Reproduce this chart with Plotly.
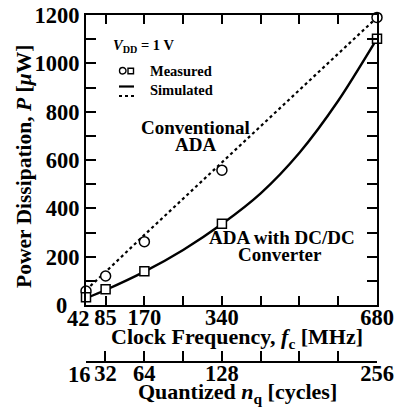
import plotly.graph_objects as go

# ---- data ----
freq_mhz = [42, 85, 170, 340, 680]
conv_measured = [58, 120, 262, 558, 1190]
dcdc_measured = [32, 65, 140, 336, 1102]

sim_freq = [42, 85, 170, 255, 340, 425, 510, 595, 680]
conv_simulated = [62, 137, 290, 440, 590, 740, 890, 1040, 1190]
dcdc_simulated = [28, 62, 138, 228, 335, 462, 630, 845, 1102]

x_tickvals = [42, 85, 170, 255, 340, 425, 510, 595, 680]
x_ticktext = ["", "85", "170", "", "340", "", "", "", "680"]
nq_tickvals = [16, 32, 64, 96, 128, 160, 192, 224, 256]
nq_ticktext = ["", "32", "64", "", "128", "", "", "", "256"]
y_tickvals = list(range(0, 1300, 100))
y_ticktext = [str(v) if (v % 200 == 0 and v > 0) else "" for v in y_tickvals]

FONT = "Liberation Serif"
W, H = 402, 408
L, R, T, B = 86, 377, 15, 362  # paper box in pixels
PLOT_BOTTOM = 305


def px(x):
    return (x - L) / (R - L)


def py(y):
    return (B - y) / (B - T)


fig = go.Figure()

fig.add_trace(go.Scatter(x=sim_freq, y=conv_simulated, mode="lines",
                         line=dict(color="black", width=2.2, dash="dot"),
                         cliponaxis=False, showlegend=False))
fig.add_trace(go.Scatter(x=sim_freq, y=dcdc_simulated, mode="lines",
                         line=dict(color="black", width=2.4, shape="spline", smoothing=0.8),
                         cliponaxis=False, showlegend=False))
fig.add_trace(go.Scatter(x=freq_mhz, y=conv_measured, mode="markers",
                         marker=dict(symbol="circle", size=10, color="white",
                                     line=dict(color="black", width=1.5)),
                         cliponaxis=False, showlegend=False))
fig.add_trace(go.Scatter(x=freq_mhz, y=dcdc_measured, mode="markers",
                         marker=dict(symbol="square", size=9, color="white",
                                     line=dict(color="black", width=1.5)),
                         cliponaxis=False, showlegend=False))
# dummy trace for secondary axis
fig.add_trace(go.Scatter(x=[16, 256], y=[None, None], xaxis="x2", mode="markers",
                         showlegend=False, hoverinfo="skip"))

tickfont = dict(family=FONT, size=22.5, color="black", weight="bold")

fig.update_layout(
    width=W, height=H,
    margin=dict(l=L, r=W - R, t=T, b=H - B, autoexpand=False),
    paper_bgcolor="white", plot_bgcolor="white",
    font=dict(family=FONT, color="black"),
    showlegend=False,
    xaxis=dict(range=[42, 680], tickmode="array", tickvals=x_tickvals, ticktext=x_ticktext,
               ticks="inside", ticklen=9, tickwidth=2, tickcolor="black", tickangle=0,
               showline=True, linewidth=2, linecolor="black", mirror="ticks",
               showgrid=False, zeroline=False, tickfont=tickfont, anchor="y",
               automargin=False, ticklabelstandoff=-9),
    yaxis=dict(range=[0, 1200], domain=[(B - PLOT_BOTTOM) / (B - T), 1],
               tickmode="array", tickvals=y_tickvals, ticktext=y_ticktext,
               ticks="inside", ticklen=10, tickwidth=2, tickcolor="black",
               showline=True, linewidth=2, linecolor="black", mirror="ticks",
               showgrid=False, zeroline=False, tickfont=tickfont, automargin=False),
    xaxis2=dict(range=[16, 256], overlaying="x", anchor="free", position=0, side="bottom",
                tickmode="array", tickvals=nq_tickvals, ticktext=nq_ticktext,
                ticks="inside", ticklen=10, tickwidth=2, tickcolor="black", tickangle=0,
                showline=True, linewidth=2, linecolor="black",
                showgrid=False, zeroline=False, tickfont=tickfont,
                automargin=False, ticklabelstandoff=-9),
)

bold = lambda s: "<b>" + s + "</b>"

annotations = [
    # offset corner tick labels
    dict(text=bold("0"), x=px(69), y=py(305), xanchor="right", font=dict(size=22.5)),
    dict(text=bold("42"), x=px(78), y=py(318), font=dict(size=22.5)),
    dict(text=bold("16"), x=px(79), y=py(374), font=dict(size=22.5)),
    # axis titles
    dict(text=bold("Power Dissipation, <i>P</i> [<i>μ</i>W]"), textangle=-90,
         x=px(24), y=py(167), font=dict(size=21.5)),
    dict(text=bold("Clock Frequency, <i>f</i><sub>c</sub> [MHz]"),
         x=px(237), y=py(338), font=dict(size=22)),
    dict(text=bold("Quantized <i>n</i><sub>q</sub> [cycles]"),
         x=px(237), y=py(393), font=dict(size=22)),
    # legend / labels
    dict(text=bold("<i>V</i><sub>DD</sub> = 1 V"), x=px(111), y=py(46), xanchor="left",
         font=dict(size=14.5)),
    dict(text=bold("Measured"), x=px(148), y=py(71), xanchor="left", font=dict(size=14.5)),
    dict(text=bold("Simulated"), x=px(148), y=py(90), xanchor="left", font=dict(size=14.5)),
    dict(text=bold("Conventional"), x=px(195), y=py(127), font=dict(size=19)),
    dict(text=bold("ADA"), x=px(195), y=py(144), font=dict(size=19)),
    dict(text=bold("ADA with DC/DC"), x=px(282), y=py(237), font=dict(size=19)),
    dict(text=bold("Converter"), x=px(280), y=py(255), font=dict(size=19)),
]
for a in annotations:
    a.update(xref="paper", yref="paper", showarrow=False)
    a.setdefault("xanchor", "center")
    a.setdefault("yanchor", "middle")
    f = a["font"]
    f.update(family=FONT, color="black")
fig.update_layout(annotations=annotations)

shapes = [
    dict(type="circle", x0=px(119.5), x1=px(126), y0=py(74), y1=py(67.5),
         line=dict(color="black", width=1.4)),
    dict(type="rect", x0=px(128), x1=px(133.5), y0=py(73.8), y1=py(68.2),
         line=dict(color="black", width=1.4)),
    dict(type="line", x0=px(119), x1=px(134), y0=py(86.5), y1=py(86.5),
         line=dict(color="black", width=2.2)),
    dict(type="line", x0=px(119), x1=px(134), y0=py(96), y1=py(96),
         line=dict(color="black", width=2, dash="dot")),
]
for s in shapes:
    s.update(xref="paper", yref="paper")
fig.update_layout(shapes=shapes)

fig.write_html("out.html", config={"displayModeBar": False},
               post_script="document.body.style.margin='0';")
